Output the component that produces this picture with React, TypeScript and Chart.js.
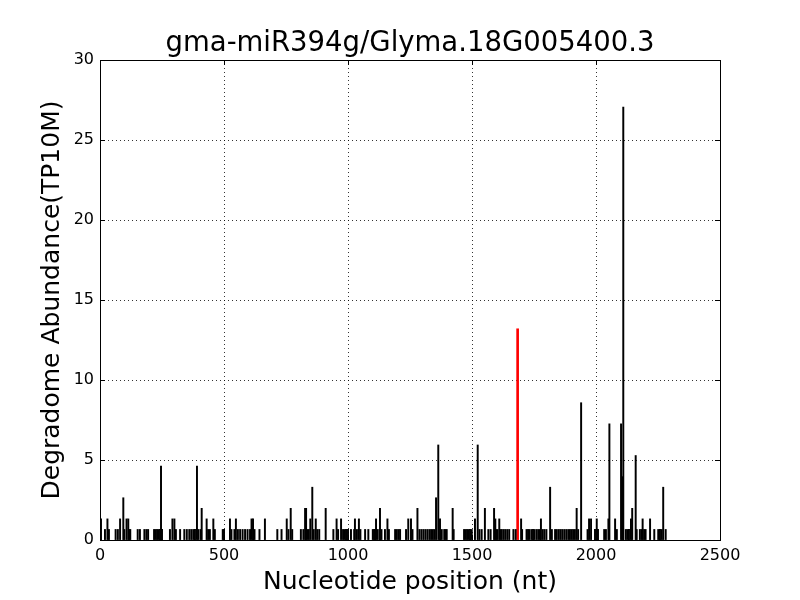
import React, { useEffect, useRef } from "react";
import { Chart, registerables } from "chart.js";

Chart.register(...registerables);

const titleText = "gma-miR394g/Glyma.18G005400.3";
const xAxisLabel = "Nucleotide position (nt)";
const yAxisLabel = "Degradome Abundance(TP10M)";

const xTicks = [0, 500, 1000, 1500, 2000, 2500];
const yTicks = [0, 5, 10, 15, 20, 25, 30];

// Degradome tag positions (nt) and abundances (TP10M)
const positions = [
  4, 20, 30, 36, 63, 72, 81, 94, 98, 107, 114, 118, 122, 152, 161, 179, 187, 194, 218, 224,
  230, 236, 242, 246, 250, 282, 292, 300, 306, 323, 340, 350, 360, 368, 376, 383, 391, 396, 405, 410,
  430, 436, 443, 457, 463, 495, 500, 524, 530, 542, 548, 556, 565, 575, 585, 595, 605, 611, 617, 623,
  643, 665, 715, 732, 753, 760, 769, 775, 810, 820, 827, 831, 836, 842, 848, 856, 862, 870, 876, 884,
  910, 941, 954, 960, 972, 980, 986, 992, 1000, 1012, 1025, 1028, 1036, 1044, 1050, 1069, 1082, 1100, 1105, 1109,
  1113, 1120, 1129, 1135, 1149, 1159, 1165, 1190, 1197, 1204, 1210, 1234, 1243, 1254, 1260, 1280, 1288, 1296, 1304, 1312,
  1320, 1328, 1335, 1342, 1348, 1355, 1364, 1371, 1378, 1388, 1393, 1398, 1422, 1426, 1468, 1474, 1480, 1486, 1492, 1499,
  1512, 1523, 1530, 1539, 1552, 1566, 1575, 1589, 1594, 1598, 1603, 1610, 1615, 1620, 1627, 1634, 1642, 1650, 1667, 1676,
  1698, 1702, 1720, 1726, 1732, 1740, 1746, 1752, 1760, 1767, 1774, 1778, 1785, 1792, 1800, 1815, 1822, 1835, 1842, 1850,
  1857, 1864, 1872, 1880, 1888, 1895, 1902, 1908, 1915, 1922, 1928, 1940, 1966, 1972, 1980, 1996, 2003, 2008, 2033, 2040,
  2050, 2054, 2077, 2084, 2101, 2106, 2110, 2120, 2126, 2133, 2141, 2146, 2160, 2164, 2177, 2184, 2188, 2194, 2200, 2218,
  2235, 2251, 2258, 2265, 2271, 2281,
];
const abundances = [
  1.32, 0.66, 1.32, 0.66, 0.66, 0.66, 1.32, 2.64, 0.66, 1.32, 1.32, 0.66, 0.66, 0.66, 0.66, 0.66, 0.66, 0.66, 0.66, 0.66,
  0.66, 0.66, 0.66, 4.62, 0.66, 0.66, 1.32, 1.32, 0.66, 0.66, 0.66, 0.66, 0.66, 0.66, 0.66, 0.66, 4.62, 0.66, 0.66, 1.98,
  1.32, 0.66, 0.66, 1.32, 0.66, 0.66, 0.66, 1.32, 0.66, 0.66, 1.32, 0.66, 0.66, 0.66, 0.66, 0.66, 0.66, 1.32, 1.32, 0.66,
  0.66, 1.32, 0.66, 0.66, 1.32, 0.66, 1.98, 0.66, 0.66, 0.66, 1.98, 1.98, 0.66, 0.66, 1.32, 3.3, 0.66, 1.32, 0.66, 0.66,
  1.98, 0.66, 1.32, 0.66, 1.32, 0.66, 0.66, 0.66, 0.66, 0.66, 0.66, 1.32, 0.66, 1.32, 0.66, 0.66, 0.66, 0.66, 0.66, 0.66,
  1.32, 0.66, 1.98, 0.66, 0.66, 1.32, 0.66, 0.66, 0.66, 0.66, 0.66, 0.66, 1.32, 1.32, 0.66, 1.98, 0.66, 0.66, 0.66, 0.66,
  0.66, 0.66, 0.66, 0.66, 0.66, 2.64, 5.94, 1.32, 0.66, 0.66, 0.66, 0.66, 1.98, 0.66, 0.66, 0.66, 0.66, 0.66, 0.66, 0.66,
  1.32, 5.94, 0.66, 0.66, 1.98, 0.66, 0.66, 1.98, 1.32, 0.66, 0.66, 1.32, 0.66, 0.66, 0.66, 0.66, 0.66, 0.66, 0.66, 0.66,
  1.32, 0.66, 0.66, 0.66, 0.66, 0.66, 0.66, 0.66, 0.66, 0.66, 0.66, 1.32, 0.66, 0.66, 0.66, 3.3, 0.66, 0.66, 0.66, 0.66,
  0.66, 0.66, 0.66, 0.66, 0.66, 0.66, 0.66, 0.66, 0.66, 1.98, 0.66, 8.58, 0.66, 1.32, 1.32, 0.66, 1.32, 0.66, 0.66, 0.66,
  1.32, 7.26, 1.32, 0.66, 7.26, 3.96, 27.06, 0.66, 0.66, 0.66, 1.32, 1.98, 5.28, 0.66, 0.66, 0.66, 1.32, 0.66, 0.66, 1.32,
  0.66, 0.66, 0.66, 0.66, 3.3, 0.66,
];

// miRNA target site (highlighted in red)
const targetPositions = [1684];
const targetAbundances = [13.2];

const FONT = "'DejaVu Sans', sans-serif";

const framePlugin = {
  id: "frame",
  afterDraw(chart: any) {
    const { ctx, chartArea } = chart;
    const { left, right, top, bottom } = chartArea;
    const xs = chart.scales.x;
    const ys = chart.scales.y;
    ctx.save();
    ctx.strokeStyle = "#000";
    ctx.lineWidth = 1;
    ctx.beginPath();
    const tl = 5;
    xTicks.forEach((v) => {
      const px = Math.round(xs.getPixelForValue(v)) + 0.5;
      ctx.moveTo(px, bottom);
      ctx.lineTo(px, bottom - tl);
      ctx.moveTo(px, top);
      ctx.lineTo(px, top + tl);
    });
    yTicks.forEach((v) => {
      const py = Math.round(ys.getPixelForValue(v)) + 0.5;
      ctx.moveTo(left, py);
      ctx.lineTo(left + tl, py);
      ctx.moveTo(right, py);
      ctx.lineTo(right - tl, py);
    });
    ctx.stroke();
    ctx.strokeRect(Math.round(left) + 0.5, Math.round(top) + 0.5, Math.round(right - left), Math.round(bottom - top));
    ctx.restore();
  },
};

export default function App() {
  const ref = useRef<HTMLCanvasElement | null>(null);

  useEffect(() => {
    if (!ref.current) return;
    Chart.defaults.color = "#000";
    Chart.defaults.font.family = FONT;
    const chart = new Chart(ref.current, {
      type: "bar",
      data: {
        datasets: [
          {
            data: positions.map((p, i) => ({ x: p, y: abundances[i] })),
            backgroundColor: "#000",
            borderWidth: 0,
            barThickness: 1.3,
            grouped: false,
          } as any,
          {
            data: targetPositions.map((p, i) => ({ x: p, y: targetAbundances[i] })),
            backgroundColor: "#ff0000",
            borderWidth: 0,
            barThickness: 2,
            grouped: false,
          } as any,
        ],
      },
      options: {
        animation: false,
        responsive: false,
        devicePixelRatio: 1,
        layout: { padding: { left: 0, right: 80, top: 0, bottom: 0 } },
        plugins: {
          legend: { display: false },
          tooltip: { enabled: false },
          title: { display: false },
        },
        scales: {
          x: {
            type: "linear",
            min: 0,
            max: 2500,
            offset: false,
            afterBuildTicks: (s: any) => {
              s.ticks = xTicks.map((v) => ({ value: v }));
            },
            afterFit: (s: any) => {
              s.height = 60;
            },
            ticks: {
              font: { family: FONT, size: 16 },
              color: "#000",
              padding: 6,
              maxRotation: 0,
              callback: (v: any) => String(v),
            },
            grid: { color: "#000", lineWidth: 0.8, drawTicks: false, offset: false },
            border: { display: false, dash: [1, 3] },
            title: {
              display: true,
              text: xAxisLabel,
              color: "#000",
              font: { family: FONT, size: 25, weight: "normal" },
              padding: { top: 3, bottom: 3 },
            },
          },
          xTop: {
            type: "linear",
            position: "top",
            min: 0,
            max: 2500,
            afterFit: (s: any) => {
              s.height = 60;
            },
            ticks: { display: false },
            grid: { display: false, drawTicks: false },
            border: { display: false },
            title: {
              display: true,
              text: titleText,
              color: "#000",
              font: { family: FONT, size: 27.5, weight: "normal", lineHeight: 1.2 },
              padding: { top: 27, bottom: 0 },
            },
          },
          y: {
            type: "linear",
            min: 0,
            max: 30,
            afterBuildTicks: (s: any) => {
              s.ticks = yTicks.map((v) => ({ value: v }));
            },
            afterFit: (s: any) => {
              s.width = 100;
            },
            ticks: {
              font: { family: FONT, size: 16 },
              color: "#000",
              padding: 6,
            },
            grid: { color: "#000", lineWidth: 0.8, drawTicks: false },
            border: { display: false, dash: [1, 3] },
            title: {
              display: true,
              text: yAxisLabel,
              color: "#000",
              font: { family: FONT, size: 25, weight: "normal" },
              padding: { top: 37, bottom: 4 },
            },
          },
        },
      },
      plugins: [framePlugin],
    });
    return () => chart.destroy();
  }, []);

  return (
    <div style={{ position: "absolute", left: 0, top: 0, width: 800, height: 600, background: "#fff" }}>
      <canvas ref={ref} width={800} height={600} style={{ width: 800, height: 600 }} />
    </div>
  );
}
